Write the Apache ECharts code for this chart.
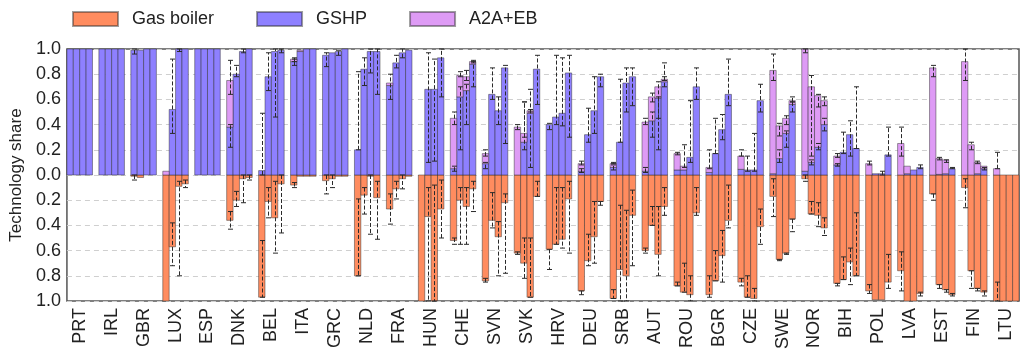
<!DOCTYPE html>
<html>
<head>
<meta charset="utf-8">
<script src="https://cdn.jsdelivr.net/npm/echarts@6/dist/echarts.min.js"></script>
<style>
  html, body { margin: 0; padding: 0; background: #ffffff; }
  #chart { width: 1021px; height: 352px; }
</style>
</head>
<body>
<div id="chart"></div>
<script>
// Countries along the x axis
const countries = ['PRT','IRL','GBR','LUX','ESP','DNK','BEL','ITA','GRC','NLD','FRA','HUN','CHE','SVN','SVK',
  'HRV','DEU','SRB','AUT','ROU','BGR','CZE','SWE','NOR','BIH','POL','LVA','EST','FIN','LTU'];

// Four scenario bars per country; shares drawn upward (GSHP, A2A+EB stacked) and downward (gas boiler)
const gshp = [
  [1, 1, 1, 1], [1, 1, 1, 1], [0.99, 0.99, 1, 1], [0, 0.52, 1, 1], [1, 1, 1, 1],
  [0.38, 0.80, 0.98, 1], [0.035, 0.78, 0.98, 0.99], [0.90, 0.98, 1, 1], [0.95, 0.97, 0.98, 1],
  [0.20, 0.84, 0.98, 0.98], [0.71, 0.89, 0.97, 0.99], [0, 0.68, 0.68, 0.93], [0.05, 0.62, 0.67, 0.88],
  [0.09, 0.64, 0.51, 0.85], [0, 0.26, 0.49, 0.84], [0.40, 0.46, 0.49, 0.81], [0.03, 0.32, 0.51, 0.78],
  [0.06, 0.26, 0.73, 0.78], [0.03, 0.43, 0.61, 0.74], [0.04, 0.04, 0.14, 0.70], [0.02, 0.17, 0.36, 0.64],
  [0.045, 0.04, 0.04, 0.59], [0.01, 0.13, 0.33, 0.56], [0.03, 0.10, 0.22, 0.40], [0.08, 0.18, 0.32, 0.21],
  [0, 0.01, 0.01, 0.16], [0, 0.01, 0.04, 0.06], [0, 0.005, 0.01, 0.05], [0, 0, 0.01, 0.05], [0, 0, 0, 0]
];

const a2aEb = [
  [0, 0, 0, 0], [0, 0, 0, 0], [0, 0, 0, 0], [0.03, 0, 0, 0], [0, 0, 0, 0],
  [0.37, 0, 0, 0], [0, 0, 0, 0], [0.02, 0.01, 0, 0], [0, 0, 0, 0],
  [0, 0, 0, 0], [0.02, 0, 0, 0], [0, 0, 0, 0], [0.40, 0.17, 0.11, 0.02],
  [0.08, 0, 0, 0], [0.38, 0.07, 0.02, 0], [0, 0, 0, 0], [0.06, 0, 0, 0],
  [0.03, 0, 0, 0], [0.39, 0.19, 0.09, 0.02], [0.13, 0.03, 0, 0], [0.04, 0, 0, 0],
  [0.105, 0, 0, 0], [0.82, 0.26, 0.12, 0.03], [0.97, 0.60, 0.41, 0.19], [0.07, 0, 0, 0],
  [0.09, 0, 0, 0], [0.25, 0.06, 0, 0], [0.85, 0.125, 0.11, 0], [0.90, 0.24, 0.09, 0.02], [0.05, 0, 0, 0]
];

const gasBoiler = [
  [0, 0, 0, 0], [0, 0, 0, 0], [0.01, 0.02, 0, 0], [1.0, 0.57, 0.09, 0.07], [0, 0, 0, 0],
  [0.36, 0.20, 0.03, 0.02], [0.97, 0.21, 0.34, 0.07], [0.08, 0.01, 0.01, 0.01], [0.045, 0.03, 0.01, 0.01],
  [0.80, 0.16, 0.01, 0.18], [0.27, 0.11, 0.03, 0.01], [1.0, 0.33, 1.0, 0.27], [0.52, 0.20, 0.25, 0.11],
  [0.84, 0.36, 0.49, 0.22], [0.62, 0.70, 0.97, 0.17], [0.59, 0.55, 0.51, 0.19], [0.92, 0.68, 0.49, 0.21],
  [0.98, 0.75, 0.80, 0.32], [0.60, 0.40, 0.63, 0.25], [0.88, 0.93, 0.95, 0.30], [0.95, 0.84, 0.64, 0.36],
  [0.85, 0.97, 0.98, 0.41], [0.17, 0.67, 0.62, 0.35], [0.03, 0.31, 0.32, 0.42], [0.86, 0.83, 0.69, 0.80],
  [0.92, 0.99, 0.99, 0.85], [0.76, 1.0, 1.0, 0.94], [0.15, 0.87, 0.91, 0.95], [0.10, 0.76, 0.90, 0.93], [1, 1, 1, 1]
];

// Uncertainty ranges [low, high] (share magnitude) per bar, keyed by country
const gshpErr = {
  GBR: [[0.96, 1.0], null, null, null],
  LUX: [null, [0.33, 0.92], [0.98, 1.0], null],
  DNK: [[0.22, 0.40], [0.78, 0.87], [0.97, 1.0], null],
  BEL: [[0.0, 0.49], [0.67, 0.97], [0.46, 1.0], [0.97, 1.0]],
  ITA: [[0.87, 0.92], null, null, null],
  GRC: [[0.86, 0.97], null, [0.95, 0.99], null],
  NLD: [[0.20, 0.82], [0.71, 0.93], [0.81, 1.0], [0.64, 1.0]],
  FRA: [[0.60, 0.80], [0.85, 0.95], [0.93, 1.0], null],
  HUN: [null, [0.10, 0.97], [0.11, 0.92], [0.62, 1.0]],
  CHE: [[0.03, 0.07], [0.20, 0.70], [0.40, 0.72], [0.70, 0.90]],
  SVN: [[0.05, 0.10], [0.60, 0.85], [0.40, 0.62], [0.25, 0.87]],
  SVK: [null, [0.20, 0.58], [0.06, 0.68], [0.56, 0.95]],
  HRV: [[0.36, 0.41], [0.40, 0.95], [0.39, 0.93], [0.30, 0.95]],
  DEU: [[0.02, 0.05], [0.26, 0.53], [0.33, 0.78], [0.70, 0.80]],
  SRB: [[0.04, 0.08], [0.26, 0.76], [0.50, 0.85], [0.55, 0.85]],
  AUT: [[0.02, 0.06], [0.30, 0.50], [0.20, 0.62], [0.70, 0.89]],
  ROU: [null, null, [0.10, 0.59], [0.60, 0.85]],
  BGR: [null, [0.17, 0.45], [0.28, 0.48], [0.55, 0.92]],
  CZE: [null, [0.03, 0.15], [0.03, 0.33], [0.50, 0.72]],
  SWE: [null, [0.10, 0.20], [0.22, 0.35], [0.50, 0.58]],
  NOR: [null, [0.08, 0.12], [0.20, 0.25], [0.35, 0.45]],
  BIH: [[0.07, 0.09], [0.17, 0.34], [0.15, 0.43], [0.21, 0.70]],
  POL: [null, null, [0.0, 0.03], [0.15, 0.38]],
  LVA: [null, null, null, [0.05, 0.08]],
  EST: [null, null, null, [0.05, 0.06]],
  FIN: [null, null, null, [0.04, 0.06]]
};

// Ranges for the top of the stacked GSHP + A2A+EB bar
const a2aEbErr = {
  DNK: [[0.64, 0.91], null, null, null],
  ITA: [[0.90, 0.93], null, null, null],
  CHE: [[0.40, 0.50], [0.78, 0.82], [0.75, 0.83], [0.89, 0.91]],
  SVN: [[0.15, 0.20], null, null, null],
  SVK: [[0.36, 0.40], [0.30, 0.58], [0.50, 0.52], null],
  DEU: [[0.08, 0.11], null, null, null],
  SRB: [[0.09, 0.10], null, null, null],
  AUT: [[0.40, 0.45], [0.58, 0.65], [0.45, 0.74], [0.75, 0.78]],
  ROU: [[0.16, 0.18], [0.06, 0.24], null, null],
  BGR: [[0.05, 0.20], null, null, null],
  CZE: [[0.15, 0.20], null, null, null],
  SWE: [[0.75, 0.96], [0.31, 0.41], [0.40, 0.47], [0.58, 0.62]],
  NOR: [[0.97, 1.0], [0.15, 0.79], [0.54, 0.64], [0.55, 0.62]],
  BIH: [[0.14, 0.17], null, null, null],
  POL: [[0.08, 0.11], null, null, null],
  LVA: [[0.15, 0.38], null, null, null],
  EST: [[0.78, 0.87], [0.12, 0.14], [0.10, 0.12], null],
  FIN: [[0.75, 1.0], [0.20, 0.26], [0.09, 0.11], null],
  LTU: [[0.05, 0.18], null, null, null]
};

const gasErr = {
  GBR: [[0.0, 0.04], null, null, null],
  LUX: [null, [0.38, 0.72], [0.05, 0.80], [0.04, 0.10]],
  DNK: [[0.29, 0.43], [0.13, 0.25], [0.0, 0.22], [0.0, 0.04]],
  BEL: [[0.52, 0.97], [0.10, 0.34], [0.05, 0.62], [0.0, 0.46]],
  ITA: [[0.06, 0.10], null, null, null],
  GRC: [[0.0, 0.15], [0.0, 0.10], null, null],
  NLD: [[0.19, 0.80], [0.10, 0.31], [0.0, 0.47], [0.05, 0.51]],
  FRA: [[0.15, 0.39], [0.05, 0.19], [0.0, 0.11], null],
  HUN: [null, [0.10, 1.0], [0.08, 1.0], [0.04, 0.50]],
  CHE: [[0.50, 0.55], [0.10, 0.55], [0.10, 0.55], [0.05, 0.29]],
  SVN: [[0.82, 0.85], [0.14, 0.42], [0.37, 0.80], [0.15, 0.78]],
  SVK: [[0.61, 0.63], [0.50, 0.82], [0.50, 0.97], [0.05, 0.17]],
  HRV: [[0.59, 0.75], [0.10, 0.55], [0.10, 0.58], [0.05, 0.62]],
  DEU: [[0.92, 0.95], [0.47, 0.72], [0.21, 0.70], [0.21, 0.24]],
  SRB: [[0.91, 0.98], [0.24, 1.0], [0.28, 1.0], [0.12, 0.72]],
  AUT: [[0.58, 0.62], [0.25, 0.40], [0.25, 0.80], [0.10, 0.32]],
  ROU: [[0.85, 0.88], [0.70, 0.93], [0.80, 1.0], [0.10, 0.32]],
  BGR: [[0.80, 0.97], [0.60, 0.84], [0.44, 0.85], [0.08, 0.42]],
  CZE: [[0.82, 0.88], [0.80, 0.97], [0.90, 1.0], [0.27, 0.55]],
  SWE: [[0.03, 0.33], [0.67, 0.68], [0.62, 0.63], [0.35, 0.45]],
  NOR: [[0.0, 0.05], [0.21, 0.31], [0.22, 0.41], [0.34, 0.48]],
  BIH: [[0.86, 0.88], [0.65, 0.83], [0.58, 0.87], [0.30, 0.80]],
  POL: [[0.87, 0.94], null, null, [0.63, 0.90]],
  LVA: [[0.61, 0.92], null, null, [0.93, 0.96]],
  EST: [[0.15, 0.20], [0.87, 0.90], [0.91, 0.93], [0.94, 0.96]],
  FIN: [[0.03, 0.26], [0.76, 0.90], [0.90, 0.92], [0.92, 0.96]],
  LTU: [[0.85, 1.0], null, null, null]
};

const yTicks = [-1, -0.8, -0.6, -0.4, -0.2, 0, 0.2, 0.4, 0.6, 0.8, 1];

// Layout of the four bars inside each country slot (axis units)
const BAR_W = 0.2;
const SLOT_OFFSETS = [-0.3, -0.1, 0.1, 0.3];
const EDGE = 'rgba(40,40,40,0.45)';

function barRows(base, top) {
  const rows = [];
  countries.forEach((c, i) => {
    SLOT_OFFSETS.forEach((off, j) => {
      rows.push([i + off, base(i, j), top(i, j)]);
    });
  });
  return rows;
}

function errRows(table, sign) {
  const rows = [];
  countries.forEach((c, i) => {
    const e = table[c];
    if (!e) return;
    e.forEach((r, j) => {
      if (r) rows.push([i + SLOT_OFFSETS[j], sign * r[0], sign * r[1]]);
    });
  });
  return rows;
}

function renderBar(params, api) {
  const x = api.value(0), y0 = api.value(1), y1 = api.value(2);
  if (Math.abs(y1 - y0) < 1e-9) return { type: 'group', children: [] };
  const p0 = api.coord([x - BAR_W / 2, y0]);
  const p1 = api.coord([x + BAR_W / 2, y1]);
  return {
    type: 'rect',
    shape: { x: p0[0], y: Math.min(p0[1], p1[1]), width: p1[0] - p0[0], height: Math.abs(p1[1] - p0[1]) },
    style: { fill: api.visual('color'), stroke: EDGE, lineWidth: 1 }
  };
}

function renderErr(params, api) {
  const x = api.value(0);
  const a = api.coord([x, api.value(1)]);
  const b = api.coord([x, api.value(2)]);
  const cx = Math.round(a[0]) + 0.5, cap = 2.5;
  const st = { stroke: '#2a2a2a', lineWidth: 1 };
  return {
    type: 'group',
    children: [
      { type: 'line', shape: { x1: cx, y1: a[1], x2: cx, y2: b[1] }, style: Object.assign({ lineDash: [4, 2] }, st) },
      { type: 'line', shape: { x1: cx - cap, y1: a[1], x2: cx + cap, y2: a[1] }, style: st },
      { type: 'line', shape: { x1: cx - cap, y1: b[1], x2: cx + cap, y2: b[1] }, style: st }
    ]
  };
}

const COLORS = { gas: '#ff8c5f', gshp: '#8e80ff', a2a: '#de9bf5' };
const FONT = 'Liberation Sans';

const chart = echarts.init(document.getElementById('chart'), null, { renderer: 'canvas' });

chart.setOption({
  animation: false,
  backgroundColor: '#ffffff',
  textStyle: { fontFamily: FONT },
  legend: {
    top: 5,
    left: 67,
    itemWidth: 45,
    itemHeight: 14,
    itemGap: 42,
    icon: 'rect',
    data: ['Gas boiler', 'GSHP', 'A2A+EB'],
    textStyle: { fontFamily: FONT, fontSize: 18, color: '#222', padding: [0, 0, 0, 9] }
  },
  grid: {
    left: 62, right: 2, top: 49, bottom: 50,
    show: true, borderColor: '#555', borderWidth: 1.5, backgroundColor: 'transparent'
  },
  xAxis: {
    type: 'value',
    min: -0.4,
    max: countries.length - 0.6,
    axisLine: { show: false, onZero: false },
    axisTick: { show: false },
    splitLine: { show: false },
    axisLabel: {
      customValues: countries.map((c, i) => i),
      formatter: v => countries[Math.round(v)] || '',
      rotate: 90,
      margin: 7,
      fontFamily: FONT,
      fontSize: 18,
      color: '#222'
    }
  },
  yAxis: {
    type: 'value',
    min: -1,
    max: 1,
    interval: 0.2,
    name: 'Technology share',
    nameLocation: 'middle',
    nameGap: 37,
    nameTextStyle: { fontFamily: FONT, fontSize: 17, color: '#222' },
    axisLine: { show: false },
    axisTick: { show: false },
    axisLabel: {
      customValues: yTicks,
      formatter: v => Math.abs(v).toFixed(1),
      margin: 6,
      fontFamily: FONT,
      fontSize: 18,
      color: '#222'
    },
    splitLine: { show: true, lineStyle: { color: '#cfcfcf', type: [5, 4], width: 1 } }
  },
  series: [
    {
      name: 'Gas boiler', type: 'custom', renderItem: renderBar,
      itemStyle: { color: COLORS.gas, borderColor: EDGE, borderWidth: 1 },
      encode: { x: 0, y: [1, 2] },
      data: barRows(() => 0, (i, j) => -gasBoiler[i][j]), z: 2
    },
    {
      name: 'GSHP', type: 'custom', renderItem: renderBar,
      itemStyle: { color: COLORS.gshp, borderColor: EDGE, borderWidth: 1 },
      encode: { x: 0, y: [1, 2] },
      data: barRows(() => 0, (i, j) => gshp[i][j]), z: 2
    },
    {
      name: 'A2A+EB', type: 'custom', renderItem: renderBar,
      itemStyle: { color: COLORS.a2a, borderColor: EDGE, borderWidth: 1 },
      encode: { x: 0, y: [1, 2] },
      data: barRows((i, j) => gshp[i][j], (i, j) => gshp[i][j] + a2aEb[i][j]), z: 2
    },
    {
      name: 'gas-range', type: 'custom', renderItem: renderErr, silent: true,
      encode: { x: 0, y: [1, 2] }, data: errRows(gasErr, -1), z: 5
    },
    {
      name: 'gshp-range', type: 'custom', renderItem: renderErr, silent: true,
      encode: { x: 0, y: [1, 2] }, data: errRows(gshpErr, 1), z: 5
    },
    {
      name: 'a2a-range', type: 'custom', renderItem: renderErr, silent: true,
      encode: { x: 0, y: [1, 2] }, data: errRows(a2aEbErr, 1), z: 5
    }
  ]
});
</script>
</body>
</html>
